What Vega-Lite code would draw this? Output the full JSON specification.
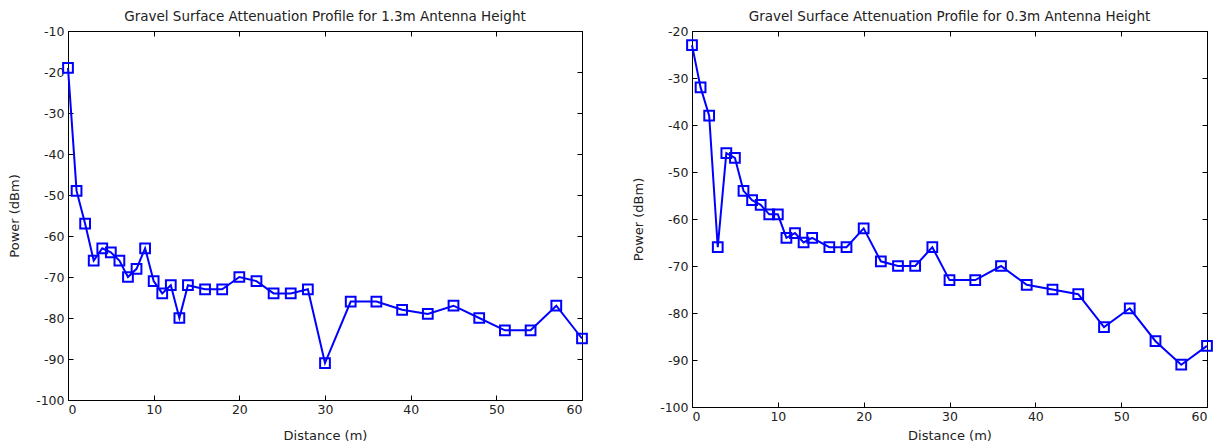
{
  "$schema": "https://vega.github.io/schema/vega-lite/v6.json",
  "padding": {"left": 8, "top": 9, "right": 10, "bottom": 5},
  "spacing": 40,
  "config": {
    "font": "DejaVu Sans",
    "view": {"stroke": "black", "strokeWidth": 1},
    "axis": {"domainColor": "black", "tickColor": "black", "labelColor": "#222", "titleColor": "#222", "labelFontSize": 12.5, "titleFontSize": 13, "titleFontWeight": "normal", "grid": false, "labelFont": "DejaVu Sans", "titleFont": "DejaVu Sans"},
    "title": {"fontSize": 13.5, "fontWeight": "normal", "color": "#222", "font": "DejaVu Sans", "offset": 2}
  },
  "datasets": {
    "a": [
      {"d": 0, "p": -19}, {"d": 1, "p": -49}, {"d": 2, "p": -57}, {"d": 3, "p": -66}, {"d": 4, "p": -63}, {"d": 5, "p": -64}, {"d": 6, "p": -66}, {"d": 7, "p": -70}, {"d": 8, "p": -68}, {"d": 9, "p": -63}, {"d": 10, "p": -71}, {"d": 11, "p": -74}, {"d": 12, "p": -72}, {"d": 13, "p": -80}, {"d": 14, "p": -72}, {"d": 16, "p": -73}, {"d": 18, "p": -73}, {"d": 20, "p": -70}, {"d": 22, "p": -71}, {"d": 24, "p": -74}, {"d": 26, "p": -74}, {"d": 28, "p": -73}, {"d": 30, "p": -91}, {"d": 33, "p": -76}, {"d": 36, "p": -76}, {"d": 39, "p": -78}, {"d": 42, "p": -79}, {"d": 45, "p": -77}, {"d": 48, "p": -80}, {"d": 51, "p": -83}, {"d": 54, "p": -83}, {"d": 57, "p": -77}, {"d": 60, "p": -85}
    ],
    "b": [
      {"d": 0, "p": -23}, {"d": 1, "p": -32}, {"d": 2, "p": -38}, {"d": 3, "p": -66}, {"d": 4, "p": -46}, {"d": 5, "p": -47}, {"d": 6, "p": -54}, {"d": 7, "p": -56}, {"d": 8, "p": -57}, {"d": 9, "p": -59}, {"d": 10, "p": -59}, {"d": 11, "p": -64}, {"d": 12, "p": -63}, {"d": 13, "p": -65}, {"d": 14, "p": -64}, {"d": 16, "p": -66}, {"d": 18, "p": -66}, {"d": 20, "p": -62}, {"d": 22, "p": -69}, {"d": 24, "p": -70}, {"d": 26, "p": -70}, {"d": 28, "p": -66}, {"d": 30, "p": -73}, {"d": 33, "p": -73}, {"d": 36, "p": -70}, {"d": 39, "p": -74}, {"d": 42, "p": -75}, {"d": 45, "p": -76}, {"d": 48, "p": -83}, {"d": 51, "p": -79}, {"d": 54, "p": -86}, {"d": 57, "p": -91}, {"d": 60, "p": -87}
    ]
  },
  "hconcat": [
    {
      "title": "Gravel Surface Attenuation Profile for 1.3m Antenna Height",
      "width": 514,
      "height": 369,
      "data": {"name": "a"},
      "resolve": {"axis": {"x": "independent", "y": "independent"}},
      "layer": [
        {
          "mark": {"type": "line", "color": "#0000ff", "strokeWidth": 2, "point": {"shape": "square", "filled": false, "size": 95, "strokeWidth": 2, "color": "#0000ff"}},
          "encoding": {
            "x": {"field": "d", "type": "quantitative", "scale": {"domain": [0, 60], "nice": false}, "axis": {"title": "Distance (m)", "values": [0, 10, 20, 30, 40, 50, 60], "tickSize": -5, "labelPadding": 8, "titlePadding": 14}},
            "y": {"field": "p", "type": "quantitative", "scale": {"domain": [-100, -10], "nice": false}, "axis": {"title": "Power (dBm)", "values": [-100, -90, -80, -70, -60, -50, -40, -30, -20, -10], "tickSize": -5, "labelPadding": 9, "titlePadding": 14, "labelExpr": "replace(datum.label, '\u2212', '-')"}}
          }
        },
        {
          "mark": {"type": "point", "opacity": 0},
          "encoding": {
            "x": {"field": "d", "type": "quantitative", "scale": {"domain": [0, 60], "nice": false}, "axis": {"orient": "top", "title": null, "labels": false, "values": [0, 10, 20, 30, 40, 50, 60], "tickSize": -5}},
            "y": {"field": "p", "type": "quantitative", "scale": {"domain": [-100, -10], "nice": false}, "axis": {"orient": "right", "title": null, "labels": false, "values": [-100, -90, -80, -70, -60, -50, -40, -30, -20, -10], "tickSize": -5}}
          }
        }
      ]
    },
    {
      "title": "Gravel Surface Attenuation Profile for 0.3m Antenna Height",
      "width": 515,
      "height": 376,
      "data": {"name": "b"},
      "resolve": {"axis": {"x": "independent", "y": "independent"}},
      "layer": [
        {
          "mark": {"type": "line", "color": "#0000ff", "strokeWidth": 2, "point": {"shape": "square", "filled": false, "size": 95, "strokeWidth": 2, "color": "#0000ff"}},
          "encoding": {
            "x": {"field": "d", "type": "quantitative", "scale": {"domain": [0, 60], "nice": false}, "axis": {"title": "Distance (m)", "values": [0, 10, 20, 30, 40, 50, 60], "tickSize": -5, "labelPadding": 8, "titlePadding": 7}},
            "y": {"field": "p", "type": "quantitative", "scale": {"domain": [-100, -20], "nice": false}, "axis": {"title": "Power (dBm)", "values": [-100, -90, -80, -70, -60, -50, -40, -30, -20], "tickSize": -5, "labelPadding": 9, "titlePadding": 14, "labelExpr": "replace(datum.label, '\u2212', '-')"}}
          }
        },
        {
          "mark": {"type": "point", "opacity": 0},
          "encoding": {
            "x": {"field": "d", "type": "quantitative", "scale": {"domain": [0, 60], "nice": false}, "axis": {"orient": "top", "title": null, "labels": false, "values": [0, 10, 20, 30, 40, 50, 60], "tickSize": -5}},
            "y": {"field": "p", "type": "quantitative", "scale": {"domain": [-100, -20], "nice": false}, "axis": {"orient": "right", "title": null, "labels": false, "values": [-100, -90, -80, -70, -60, -50, -40, -30, -20], "tickSize": -5}}
          }
        }
      ]
    }
  ]
}
